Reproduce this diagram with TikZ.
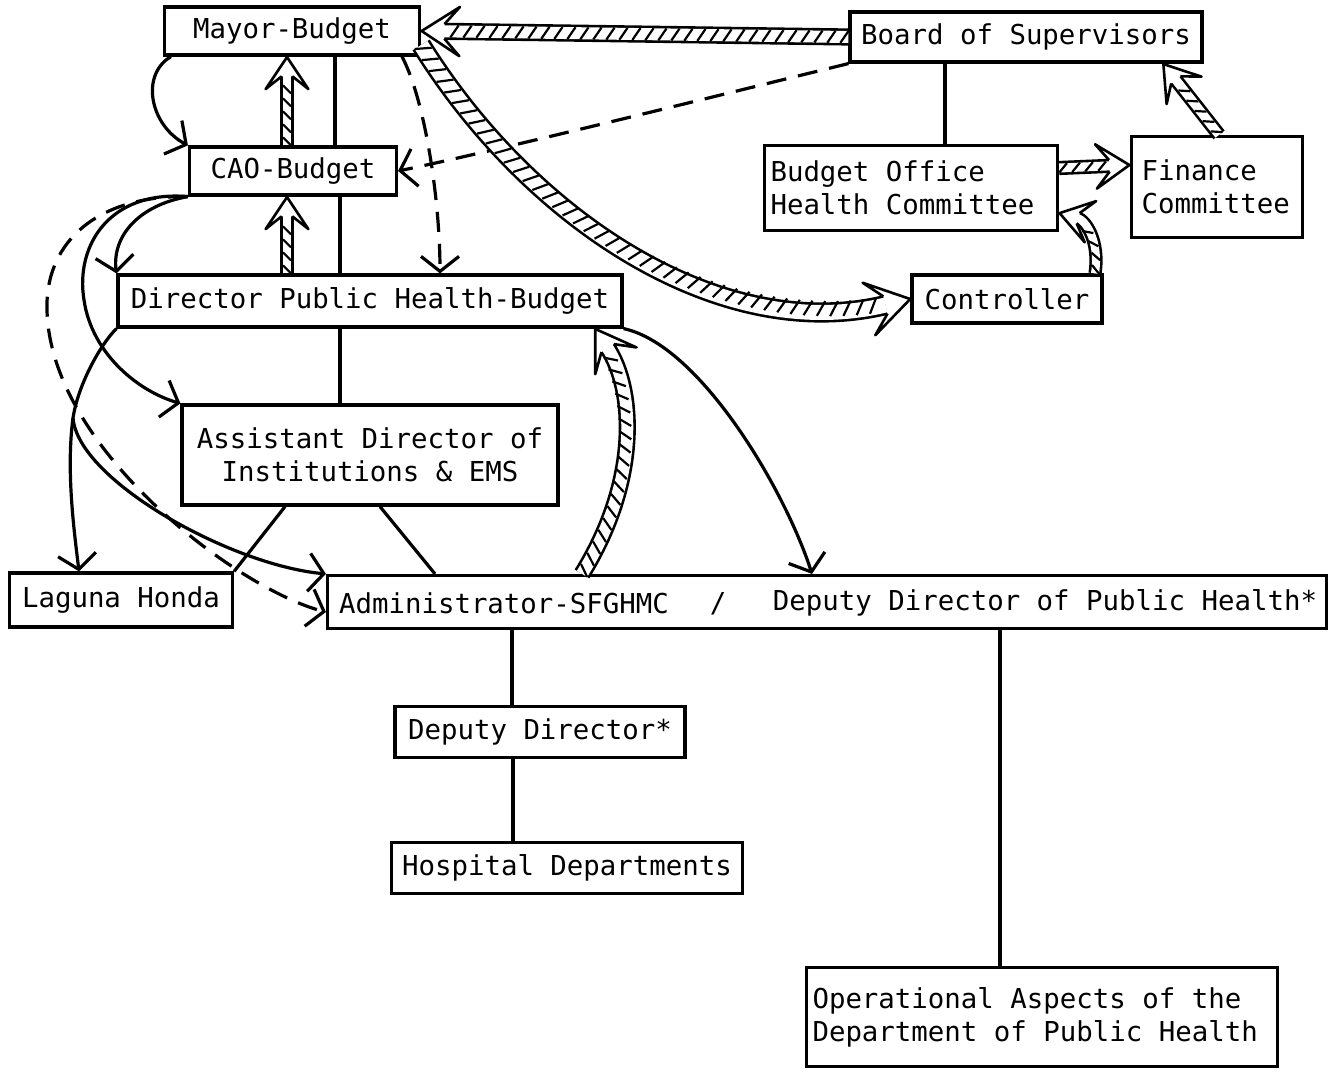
\documentclass[tikz,border=0pt]{standalone}
\usepackage{fontspec}
\setmainfont{DejaVu Sans Mono}
\usepackage{tikz}
\usetikzlibrary{arrows.meta,positioning,decorations.markings}

\begin{document}
\begin{tikzpicture}[
    x=1pt, y=-1pt,
    every node/.style={font=\fontsize{27.4}{33}\selectfont},
    box/.style={draw, line width=3.2pt, inner xsep=6pt, inner ysep=0pt, align=center},
    word/.style={inner sep=0pt},
    link/.style={line width=3.2pt},
    flow/.style={link, -{Straight Barb[length=15pt, width=38pt]}},
    plan/.style={flow, dash pattern=on 20pt off 12pt},
    % hatched band with an open head, #1 = inner width of the band
    money/.style={draw=white, line width=#1, shorten >=12pt+0.9*#1,
      preaction={draw=black, line width=#1+5.2pt, shorten >=12pt+0.9*#1},
      postaction={decorate, decoration={markings,
        mark=between positions 4pt and -14pt-1.1*#1 step 13pt with {
          \pgfsetshortenend{0pt}\pgfsetarrows{-}\pgfsetstrokecolor{black}\pgfsetlinewidth{2.2pt}
          \pgfpathmoveto{\pgfpoint{-4pt}{-0.5*#1}}\pgfpathlineto{\pgfpoint{4pt}{0.5*#1}}
          \pgfusepath{stroke}},
        mark=at position -0.5pt with {
          \pgfsetshortenend{0pt}\pgfsetarrows{-}\pgfsetfillcolor{white}\pgfsetstrokecolor{black}
          \pgfsetlinewidth{2.6pt}\pgfsetroundjoin
          \pgfpathmoveto{\pgfpointorigin}
          \pgfpathlineto{\pgfpoint{-20pt-1.5*#1}{15pt+0.8*#1}}
          \pgfpathlineto{\pgfpoint{-12pt-0.9*#1}{0.5*#1+1.3pt}}
          \pgfpathlineto{\pgfpoint{-12pt-0.9*#1}{-0.5*#1-1.3pt}}
          \pgfpathlineto{\pgfpoint{-20pt-1.5*#1}{-15pt-0.8*#1}}
          \pgfpathclose\pgfusepath{fill}
          \pgfpathmoveto{\pgfpoint{-12pt-0.9*#1}{0.5*#1+1.3pt}}
          \pgfpathlineto{\pgfpoint{-20pt-1.5*#1}{15pt+0.8*#1}}
          \pgfpathlineto{\pgfpointorigin}
          \pgfpathlineto{\pgfpoint{-20pt-1.5*#1}{-15pt-0.8*#1}}
          \pgfpathlineto{\pgfpoint{-12pt-0.9*#1}{-0.5*#1-1.3pt}}
          \pgfusepath{stroke}}}}},
    money/.default=12pt
  ]
  \useasboundingbox (0,0) rectangle (1329,1081);

  % budget chain
  \node[box, minimum width=255pt, minimum height=48pt] (mayor) at (292,31) {Mayor-Budget};
  \node[box, minimum width=352pt, minimum height=50pt] (board) at (1026,37) {Board of Supervisors};
  \node[box, minimum width=207pt, minimum height=48pt] (cao) at (293,171) {CAO-Budget};
  \node[box, text width=281pt, align=flush left, minimum height=85pt] (office) at (911,188) {Budget Office\\Health Committee};
  \node[box, inner xsep=10pt, text width=151pt, align=flush left, minimum height=101pt] (finance) at (1217,187) {Finance\\Committee};
  \node[box, minimum width=190pt, minimum height=48pt] (controller) at (1007,299) {Controller};
  \node[box, minimum width=504pt, minimum height=52pt] (director) at (370,301) {Director Public Health-Budget};
  \node[box, minimum width=376pt, minimum height=100pt] (assistant) at (370,455) {Assistant Director of\\Institutions \& EMS};

  % institutions
  \node[box, minimum width=223pt, minimum height=54pt] (laguna) at (121,600) {Laguna Honda};
  \node[box, minimum width=999pt, minimum height=53pt] (hosp) at (827,602) {};
  \node[word] (admin) at (504,603) {Administrator-SFGHMC};
  \node[word] (slash) at (718,604) {/};
  \node[word] (deputy) at (1045,603) {Deputy Director of Public Health*};
  \node[box, minimum width=290pt, minimum height=51pt] (depdir) at (540,732) {Deputy Director*};
  \node[box, minimum width=351pt, minimum height=51pt] (hospdept) at (567,868) {Hospital Departments};
  \node[box, text width=459pt, align=flush left, minimum height=99pt] (ops) at (1042,1017) {Operational Aspects of the\\Department of Public Health};

  % plain lines
  \draw[link] ([xshift=43pt]mayor.south) -- ([xshift=42pt]cao.north);
  \draw[link] ([xshift=47pt]cao.south) -- ([xshift=-30pt]director.north);
  \draw[link] ([xshift=-30pt]director.south) -- ([xshift=-30pt]assistant.north);
  \draw[link] ([xshift=-81pt]board.south) -- ([xshift=34pt]office.north);
  \draw[link] ([xshift=-85pt]assistant.south) -- (laguna.north east);
  \draw[link] ([xshift=10pt]assistant.south) -- ([xshift=-392pt]hosp.north);
  \draw[link] ([xshift=-315pt]hosp.south) -- ([xshift=-28pt]depdir.north);
  \draw[link] ([xshift=-27pt]depdir.south) -- ([xshift=-54pt]hospdept.north);
  \draw[link] ([xshift=173pt]hosp.south) -- ([xshift=-42pt]ops.north);

  % solid arrows
  \draw[flow] ([xshift=8pt]mayor.south west) .. controls (140,75) and (150,125) .. (cao.north west);
  \draw[flow] (cao.south west) .. controls (140,205) and (112,235) .. (director.north west);
  \draw[flow] (cao.south west) .. controls (110,190) and (75,245) .. (84,300)
    .. controls (92,355) and (140,392) .. (assistant.north west);
  \coordinate (split) at (73,418);
  \draw[link] (director.south west) .. controls (100,345) and (78,385) .. (split);
  \draw[flow] (split) .. controls (66,470) and (74,530) .. ([xshift=-42pt]laguna.north);
  \draw[flow] (split) .. controls (78,480) and (230,565) .. (hosp.north west);
  \draw[flow] (director.south east) .. controls (700,345) and (785,490) .. ([xshift=-15pt]hosp.north);

  % dashed arrows
  \draw[plan] (cao.south west) .. controls (100,195) and (45,240) .. (47,310)
    .. controls (50,450) and (240,590) .. ([yshift=-10pt]hosp.west);
  \draw[plan] (board.south west) .. controls (720,95) and (500,150) .. (cao.east);
  \draw[plan] ([xshift=110pt]mayor.south) .. controls (425,100) and (440,200) .. ([xshift=70pt]director.north);

  % hatched arrows
  \draw[money=12pt] (board.west) -- (mayor.east);
  \draw[money=15pt] ([yshift=-14pt]mayor.east) .. controls (530,220) and (720,345) .. (controller.west);
  \draw[money=8pt] ([xshift=-6pt]cao.north) -- ([xshift=-5pt]mayor.south);
  \draw[money=8pt] ([xshift=-83pt]director.north) -- ([xshift=-6pt]cao.south);
  \draw[money] ([xshift=-245pt]hosp.north) .. controls (640,480) and (635,390) .. ([xshift=225pt]director.south);
  \draw[money=9pt] ([yshift=20pt]office.east) -- ([yshift=22pt]finance.west);
  \draw[money=9pt] ([xshift=2pt]finance.north) -- ([xshift=137pt]board.south);
  \draw[money=8pt] ([xshift=88pt]controller.north) .. controls (1100,240) and (1085,220) .. ([yshift=-25pt]office.east);
\end{tikzpicture}
\end{document}
